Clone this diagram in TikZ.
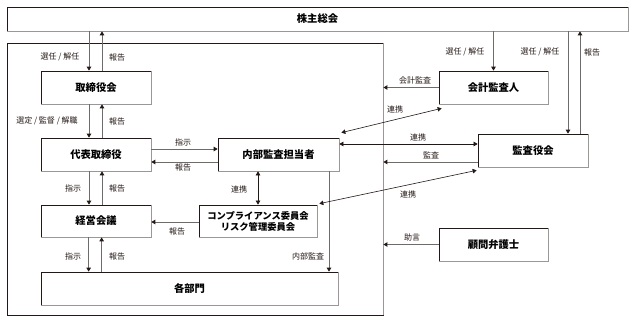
\documentclass[tikz,border=0pt]{standalone}
\usepackage{fontspec}
\setmainfont{Noto Sans CJK JP}
\usetikzlibrary{arrows.meta,calc}
\definecolor{ink}{HTML}{231815}
\definecolor{edgegray}{HTML}{9A9896}
\definecolor{ln}{HTML}{6E6B69}
\tikzset{
  bx/.style={draw=ink, line width=0.7pt, fill=white, inner sep=1pt, align=center,
    font=\fontsize{10.3}{12}\selectfont\bfseries},
  lbl/.style={font=\fontsize{8}{9}\selectfont, text=ink, inner sep=1pt},
  arr/.style={draw=ln, line width=0.9pt, -{Triangle[length=4pt,width=4.5pt,color=ink]}},
  darr/.style={draw=ink, line width=0.6pt, {Triangle[length=4pt,width=4.5pt]}-{Triangle[length=4pt,width=4.5pt]}},
}
\begin{document}
\begin{tikzpicture}[x=1pt,y=-1pt]
\useasboundingbox (0,0) rectangle (635,323);
% outer company frame
\node[draw=ink, line width=0.8pt, minimum width=376pt, minimum height=272pt, inner sep=0pt] (co) at (195,179) {};
\draw[edgegray, line width=1.3pt] (co.north east) -- (co.south east);
% boxes
\node[bx, minimum width=621pt, minimum height=24pt] (sh) at (317.5,19) {株主総会};
\node[bx, minimum width=110pt, minimum height=33pt] (tori) at (96,87.5) {取締役会};
\node[bx, minimum width=110pt, minimum height=33pt] (dai) at (96,154.5) {代表取締役};
\node[bx, minimum width=110pt, minimum height=32pt] (keiei) at (96,221) {経営会議};
\node[bx, minimum width=297pt, minimum height=33pt] (kaku) at (189.5,288.5) {各部門};
\node[bx, minimum width=121pt, minimum height=33pt] (naibu) at (278.5,154.5) {内部監査担当者};
\node[bx, minimum width=118pt, minimum height=32pt, font=\fontsize{9.3}{11}\selectfont\bfseries] (comp) at (258,221) {コンプライアンス委員会\\リスク管理委員会};
\node[bx, minimum width=109pt, minimum height=33pt] (kaikei) at (493.5,87.5) {会計監査人};
\node[bx, minimum width=110pt, minimum height=33pt] (kansa) at (533,150.5) {監査役会};
\node[bx, minimum width=109pt, minimum height=33pt] (komon) at (493.5,244.5) {顧問弁護士};
\foreach \n in {sh,tori,dai,keiei,kaku,naibu,comp,kaikei,kansa,komon}
  \draw[edgegray, line width=1pt] (\n.north east) -- (\n.south east) -- (\n.south west);
% helper coordinates
\coordinate (tD) at ($(tori.north)+(-7,0)$);
\coordinate (tU) at ($(tori.north)+(6,0)$);
\coordinate (dD) at ($(dai.north)+(-7,0)$);
\coordinate (dU) at ($(dai.north)+(6,0)$);
\coordinate (kD) at ($(keiei.north)+(-7,0)$);
\coordinate (kU) at ($(keiei.north)+(6,0)$);
\coordinate (bD) at ($(kaku.north west)+(48,0)$);
\coordinate (bU) at ($(kaku.north west)+(61,0)$);
\coordinate (dR) at ($(dai.east)+(0,-5.5)$);
\coordinate (dL) at ($(dai.east)+(0,7.5)$);
\coordinate (nk) at ($(naibu.south)+(50.5,0)$);
\coordinate (ksD) at ($(kansa.north)+(35,0)$);
\coordinate (ksU) at ($(kansa.north)+(47,0)$);
\coordinate (ksL1) at ($(kansa.west)+(0,-6.5)$);
\coordinate (ksL2) at ($(kansa.west)+(0,11.5)$);
\coordinate (cpW) at ($(comp.west)+(0,1)$);
% vertical chain
\draw[arr] (tD |- sh.south) -- (tD);
\draw[arr] (tU) -- (tU |- sh.south);
\draw[arr] (tD |- tori.south) -- (dD);
\draw[arr] (dU) -- (dU |- tori.south);
\draw[arr] (dD |- dai.south) -- (kD);
\draw[arr] (kU) -- (kU |- dai.south);
\draw[arr] (bD |- keiei.south) -- (bD);
\draw[arr] (bU) -- (bU |- keiei.south);
% internal audit
\draw[arr] (dR) -- (dR -| naibu.west);
\draw[arr] (dL -| naibu.west) -- (dL);
\draw[darr] (comp.north |- naibu.south) -- (comp.north);
\draw[arr] (cpW) -- (cpW -| keiei.east);
\draw[arr] (nk) -- (nk |- kaku.north);
% right side
\draw[arr] (kaikei.north |- sh.south) -- (kaikei.north);
\draw[arr] (ksD |- sh.south) -- (ksD);
\draw[arr] (ksU) -- (ksU |- sh.south);
\draw[arr] (kaikei.west) -- (kaikei.west -| co.east);
\draw[arr] (ksL2) -- (ksL2 -| co.east);
\draw[arr] (komon.west) -- (komon.west -| co.east);
\draw[darr] ($(naibu.north east)+(2,-5)$) -- ($(kaikei.south west)+(3,4)$);
\draw[darr] (ksL1 -| naibu.east) -- (ksL1);
\draw[darr] ($(comp.north east)+(2,-1)$) -- ($(kansa.south west)+(-1,3)$);
% labels
\node[lbl] (l1) at (60,57) {選任 / 解任};
\node[lbl] (l2) at (117,57) {報告};
\node[lbl] (l3) at (47,121) {選定 / 監督 / 解職};
\node[lbl] (l4) at (117,121) {報告};
\node[lbl] (l5) at (73,188) {指示};
\node[lbl] (l6) at (117,188) {報告};
\node[lbl] (l7) at (73,256) {指示};
\node[lbl] (l8) at (117,256) {報告};
\node[lbl] (l9) at (183,142) {指示};
\node[lbl] (l10) at (183,167) {報告};
\node[lbl] (l11) at (239,189) {連携};
\node[lbl] (l12) at (177,231) {報告};
\node[lbl] (l13) at (308,256) {内部監査};
\node[lbl] (l14) at (415,80) {会計監査};
\node[lbl] (l15) at (395,109) {連携};
\node[lbl] (l16) at (418,137) {連携};
\node[lbl] (l17) at (431,155) {監査};
\node[lbl] (l18) at (408,194) {連携};
\node[lbl] (l19) at (465,52) {選任 / 解任};
\node[lbl] (l20) at (540,52) {選任 / 解任};
\node[lbl] (l21) at (592,52) {報告};
\node[lbl] (l22) at (412,237) {助言};
\end{tikzpicture}
\end{document}
